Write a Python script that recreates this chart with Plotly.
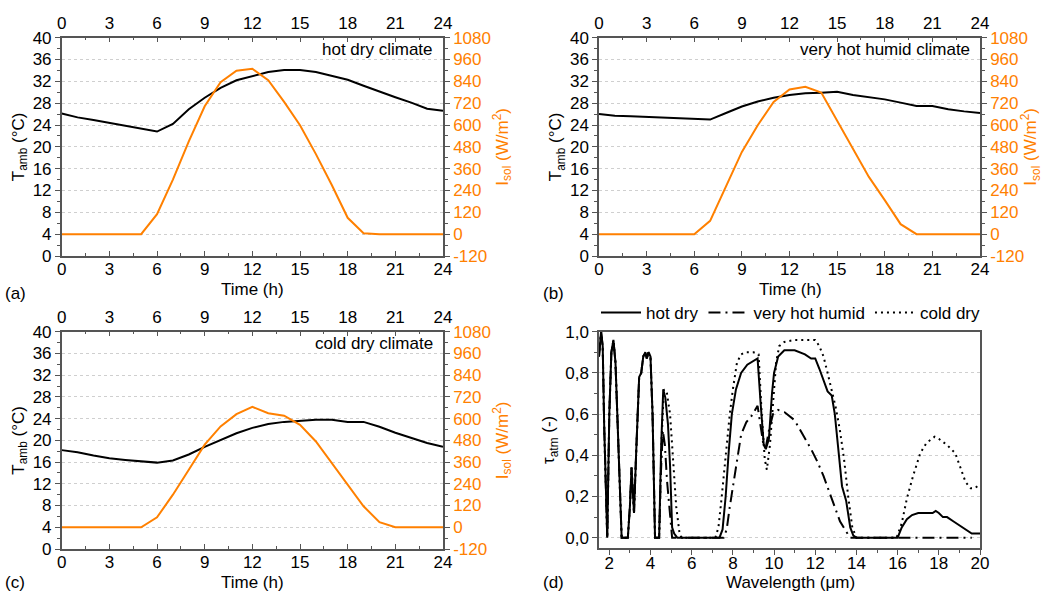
import plotly.graph_objects as go

# hours for the daily profiles
hours = list(range(0, 25))

# (a) hot dry climate
t_hot_dry = [26.1, 25.4, 24.9, 24.4, 23.9, 23.4, 22.8, 24.2, 26.9, 29.0, 30.8, 32.2, 32.9,
             33.7, 34.1, 34.1, 33.7, 33.0, 32.3, 31.2, 30.1, 29.1, 28.1, 27.0, 26.6]
i_hot_dry = [0, 0, 0, 0, 0, 0, 110, 300, 510, 703, 835, 898, 909,
             846, 727, 599, 440, 270, 90, 5, 0, 0, 0, 0, 0]

# (b) very hot humid climate
t_hot_humid = [26.0, 25.7, 25.6, 25.5, 25.4, 25.2, 25.1, 25.0, 26.2, 27.4, 28.3, 29.0, 29.5,
               29.8, 29.9, 30.1, 29.5, 29.1, 28.7, 28.1, 27.5, 27.5, 26.9, 26.5, 26.2]
i_hot_humid = [0, 0, 0, 0, 0, 0, 0, 73, 265, 452, 599, 727, 795,
               810, 779, 627, 471, 315, 187, 55, 0, 0, 0, 0, 0]

# (c) cold dry climate
t_cold_dry = [18.2, 17.8, 17.2, 16.7, 16.4, 16.1, 15.9, 16.3, 17.4, 18.8, 20.1, 21.3, 22.3,
              23.0, 23.4, 23.6, 23.8, 23.8, 23.4, 23.4, 22.5, 21.4, 20.4, 19.5, 18.8]
i_cold_dry = [0, 0, 0, 0, 0, 0, 55, 180, 318, 456, 557, 625, 665,
              630, 616, 566, 474, 355, 235, 116, 28, 0, 0, 0, 0]

# (d) atmospheric transmittance
wl_common = [1.5, 1.55, 1.6, 1.68, 1.75, 1.9, 2.0, 2.1, 2.2, 2.3, 2.45, 2.6, 2.9, 3.0, 3.08,
             3.15, 3.2, 3.3, 3.45, 3.55, 3.65, 3.75, 3.82, 3.9, 4.0, 4.1, 4.22, 4.42]
tau_common = [0.88, 0.96, 1.0, 0.93, 0.55, 0.0, 0.6, 0.9, 0.96, 0.85, 0.4, 0.0, 0.0, 0.15, 0.34,
              0.2, 0.12, 0.4, 0.78, 0.8, 0.88, 0.9, 0.87, 0.9, 0.88, 0.6, 0.0, 0.0]

wl_hd = [4.52, 4.62, 4.72, 4.85, 4.95, 5.05, 5.15, 5.3, 7.35, 7.5, 7.65, 7.8, 7.95, 8.15, 8.4,
         8.7, 9.0, 9.2, 9.35, 9.5, 9.6, 9.75, 9.9, 10.0, 10.2, 10.5, 11.0, 11.5, 11.8, 12.0,
         12.2, 12.4, 12.6, 12.8, 12.95, 13.1, 13.3, 13.5, 13.7, 13.85, 14.0, 16.0, 16.2, 16.45,
         16.7, 17.0, 17.5, 17.7, 17.85, 18.0, 18.2, 18.4, 18.7, 19.0, 19.3, 19.6, 20.0]
tau_hd = [0.45, 0.72, 0.68, 0.55, 0.35, 0.05, 0.02, 0.0, 0.0, 0.04, 0.2, 0.42, 0.6, 0.72, 0.8,
          0.84, 0.86, 0.87, 0.65, 0.45, 0.43, 0.48, 0.7, 0.8, 0.88, 0.91, 0.91, 0.89, 0.87, 0.87,
          0.82, 0.76, 0.71, 0.69, 0.6, 0.45, 0.25, 0.18, 0.05, 0.01, 0.0, 0.0, 0.05, 0.09,
          0.11, 0.12, 0.12, 0.12, 0.13, 0.12, 0.1, 0.1, 0.08, 0.06, 0.04, 0.02, 0.02]

wl_vhh = [4.5, 4.6, 4.7, 4.8, 4.95, 5.05, 7.55, 7.7, 7.85, 8.0, 8.2, 8.4, 8.65, 8.9, 9.2, 9.35,
          9.5, 9.6, 9.75, 9.95, 10.2, 10.5, 11.0, 11.4, 11.8, 12.1, 12.4, 12.8, 13.2, 13.5, 13.7,
          19.6]
tau_vhh = [0.3, 0.52, 0.45, 0.28, 0.1, 0.0, 0.0, 0.04, 0.15, 0.25, 0.38, 0.5, 0.56, 0.59, 0.64,
           0.55, 0.44, 0.44, 0.52, 0.6, 0.62, 0.61, 0.57, 0.5, 0.43, 0.37, 0.3, 0.19, 0.08, 0.03,
           0.0, 0.0]

wl_cd = [4.55, 4.65, 4.8, 4.95, 5.1, 5.25, 5.4, 5.5, 7.15, 7.3, 7.45, 7.6, 7.7, 7.85, 8.0, 8.2,
         8.4, 8.6, 9.0, 9.25, 9.4, 9.55, 9.65, 9.8, 9.95, 10.1, 10.25, 10.5, 11.0, 11.5, 12.0,
         12.2, 12.4, 12.6, 12.8, 13.0, 13.2, 13.4, 13.6, 13.8, 14.0, 15.95, 16.2, 16.45, 16.75,
         17.1, 17.4, 17.8, 18.0, 18.4, 18.8, 19.05, 19.3, 19.55, 19.75, 20.0]
tau_cd = [0.5, 0.72, 0.7, 0.6, 0.35, 0.15, 0.03, 0.0, 0.0, 0.05, 0.19, 0.35, 0.45, 0.6, 0.72, 0.85,
          0.89, 0.9, 0.9, 0.89, 0.6, 0.38, 0.33, 0.45, 0.65, 0.85, 0.93, 0.95, 0.96, 0.96, 0.96,
          0.93, 0.88, 0.8, 0.72, 0.63, 0.52, 0.38, 0.2, 0.05, 0.0, 0.0, 0.07, 0.19, 0.3,
          0.41, 0.46, 0.49, 0.48, 0.45, 0.41, 0.34, 0.27, 0.24, 0.24, 0.26]

# tick labels
isol_ticks = [-120, 0, 120, 240, 360, 480, 600, 720, 840, 960, 1080]
isol_ticktext = ["-120", "0", "120", "240", "360", "480", "600", "720", "840", "960", "1080"]
tau_ticks = [0.0, 0.2, 0.4, 0.6, 0.8, 1.0]
tau_ticktext = ["0,0", "0,2", "0,4", "0,6", "0,8", "1,0"]

climates = ["hot dry climate", "very hot humid climate", "cold dry climate"]
panel_labels = ["(a)", "(b)", "(c)", "(d)"]
x_titles = ["Time (h)", "Time (h)", "Time (h)", "Wavelength (μm)"]

ORANGE = "#ff8000"
AXIS = "#555555"
FONT = "Liberation Sans, Arial, sans-serif"
FS = 17
W, H = 1043, 591


def xd(a, b):
    return [a / W, b / W]


def yd(top, bottom):
    return [1 - bottom / H, 1 - top / H]


doms = [
    (xd(61.7, 443), yd(37.7, 256)),
    (xd(599, 980), yd(37.7, 256)),
    (xd(61.7, 443), yd(331.7, 549)),
]
dom_d = (xd(599, 980), yd(331.7, 548))

fig = go.Figure()
layout = {}
temps = [t_hot_dry, t_hot_humid, t_cold_dry]
sols = [i_hot_dry, i_hot_humid, i_cold_dry]

for k in range(3):
    nb = 2 * k + 1          # bottom x / left y
    nt = 2 * k + 2          # top x / right y
    xb = "x" if nb == 1 else "x%d" % nb
    yl = "y" if nb == 1 else "y%d" % nb
    xt = "x%d" % nt
    yr = "y%d" % nt
    fig.add_trace(go.Scatter(x=hours, y=temps[k], mode="lines", xaxis=xb, yaxis=yl,
                             line=dict(color="black", width=2), showlegend=False))
    fig.add_trace(go.Scatter(x=hours, y=sols[k], mode="lines", xaxis=xt, yaxis=yr,
                             line=dict(color=ORANGE, width=2), showlegend=False))
    xdom, ydom = doms[k]
    common_x = dict(range=[0, 24], dtick=3, tick0=0, showline=True, linecolor=AXIS, linewidth=1.5,
                    ticks="inside", ticklen=5, tickcolor=AXIS, showgrid=False, zeroline=False,
                    minor=dict(dtick=1.5, ticks="inside", ticklen=3, tickcolor=AXIS),
                    tickfont=dict(size=FS, color="black"), domain=xdom, automargin=False)
    layout["xaxis" if nb == 1 else "xaxis%d" % nb] = dict(common_x, anchor=yl, side="bottom",
                                                          ticklabelstandoff=-3)
    layout["xaxis%d" % nt] = dict(common_x, anchor=yl, side="top", overlaying=xb)
    layout["yaxis" if nb == 1 else "yaxis%d" % nb] = dict(
        range=[0, 40], dtick=4, domain=ydom, anchor=xb, showline=True, linecolor=AXIS,
        linewidth=1.5, ticks="outside", ticklen=5, tickcolor=AXIS, zeroline=False,
        minor=dict(dtick=2, ticks="outside", ticklen=3, tickcolor=AXIS),
        showgrid=True, gridcolor="#cfcfcf", griddash="dot", gridwidth=1,
        tickfont=dict(size=FS, color="black"), automargin=False,
        title=dict(text="T<sub>amb</sub> (°C)", standoff=4, font=dict(size=FS)))
    layout["yaxis%d" % nt] = dict(
        range=[-120, 1080], tickvals=isol_ticks, ticktext=isol_ticktext, overlaying=yl,
        side="right", anchor=xb,
        showline=True, linecolor=AXIS, linewidth=1.5, ticks="outside", ticklen=5,
        tickcolor=AXIS, zeroline=False, showgrid=False, automargin=False,
        minor=dict(dtick=60, tick0=0, ticks="outside", ticklen=3, tickcolor=AXIS),
        tickfont=dict(size=FS, color=ORANGE),
        title=dict(text="I<sub>sol</sub> (W/m<sup>2</sup>)", standoff=6,
                   font=dict(size=FS, color=ORANGE)))

# panel (d)
wl_hot_dry = wl_common + wl_hd
tau_hot_dry = tau_common + tau_hd
wl_very_hot_humid = wl_common + wl_vhh
tau_very_hot_humid = tau_common + tau_vhh
wl_cold_dry = wl_common + wl_cd
tau_cold_dry = tau_common + tau_cd

fig.add_trace(go.Scatter(x=wl_hot_dry, y=tau_hot_dry, mode="lines", name="hot dry",
                         xaxis="x7", yaxis="y7", line=dict(color="black", width=2)))
fig.add_trace(go.Scatter(x=wl_very_hot_humid, y=tau_very_hot_humid, mode="lines",
                         name="very hot humid", xaxis="x7", yaxis="y7",
                         line=dict(color="black", width=2, dash="12px,5px,2px,5px")))
fig.add_trace(go.Scatter(x=wl_cold_dry, y=tau_cold_dry, mode="lines", name="cold dry",
                         xaxis="x7", yaxis="y7",
                         line=dict(color="black", width=2, dash="2px,4px")))

layout["xaxis7"] = dict(
    range=[1.5, 20], dtick=2, tick0=0, domain=dom_d[0], anchor="y7", showline=True,
    mirror=True, linecolor=AXIS, linewidth=1.5, ticks="outside", ticklen=5, tickcolor=AXIS,
    minor=dict(dtick=1, ticks="outside", ticklen=3, tickcolor=AXIS), automargin=False,
    ticklabelstandoff=-6,
    showgrid=False, zeroline=False, tickfont=dict(size=FS, color="black"))
layout["yaxis7"] = dict(
    range=[-0.05, 1.0], tickvals=tau_ticks, ticktext=tau_ticktext, domain=dom_d[1],
    anchor="x7", showline=True, mirror=True, linecolor=AXIS, linewidth=1.5, ticks="outside",
    ticklen=5, tickcolor=AXIS, zeroline=False, automargin=False,
    minor=dict(tickvals=[0.1, 0.3, 0.5, 0.7, 0.9], ticks="outside", ticklen=3, tickcolor=AXIS),
    showgrid=True, gridcolor="#cfcfcf", griddash="dot", gridwidth=1,
    tickfont=dict(size=FS, color="black"),
    title=dict(text="τ<sub>atm</sub> (-)", standoff=6, font=dict(size=FS)))

annotations = []
for k in range(3):
    xdom, ydom = doms[k]
    annotations.append(dict(text=climates[k], xref="paper", yref="paper", x=xdom[1] - 8 / W,
                            y=ydom[1] - 12 / H, xanchor="right", yanchor="middle",
                            showarrow=False, font=dict(size=FS, color="black")))
label_pos = [(3, 293), (541, 293), (3, 582), (541, 582)]
for lab, (px, py) in zip(panel_labels, label_pos):
    annotations.append(dict(text=lab, xref="paper", yref="paper", x=px / W, y=1 - py / H,
                            xanchor="left", yanchor="middle", showarrow=False,
                            font=dict(size=FS, color="black")))
title_pos = [(252, 289), (790, 289), (252, 582), (790, 582)]
for txt, (px, py) in zip(x_titles, title_pos):
    annotations.append(dict(text=txt, xref="paper", yref="paper", x=px / W, y=1 - py / H,
                            xanchor="center", yanchor="middle", showarrow=False,
                            font=dict(size=FS, color="black")))

fig.update_layout(
    **layout,
    annotations=annotations,
    width=W, height=H,
    margin=dict(l=0, r=0, t=0, b=0),
    paper_bgcolor="white", plot_bgcolor="white",
    font=dict(family=FONT, size=FS, color="black"),
    showlegend=True,
    legend=dict(orientation="h", x=596 / W, y=1 - 313 / H, xanchor="left", yanchor="middle",
                font=dict(size=FS), bgcolor="rgba(0,0,0,0)", itemwidth=40,
                tracegroupgap=0),
)

# the page body has a default 8px margin; drop it so the figure sits at the corner
fig.write_html("out.html", config={"displayModeBar": False},
               post_script="document.body.style.margin='0';")
